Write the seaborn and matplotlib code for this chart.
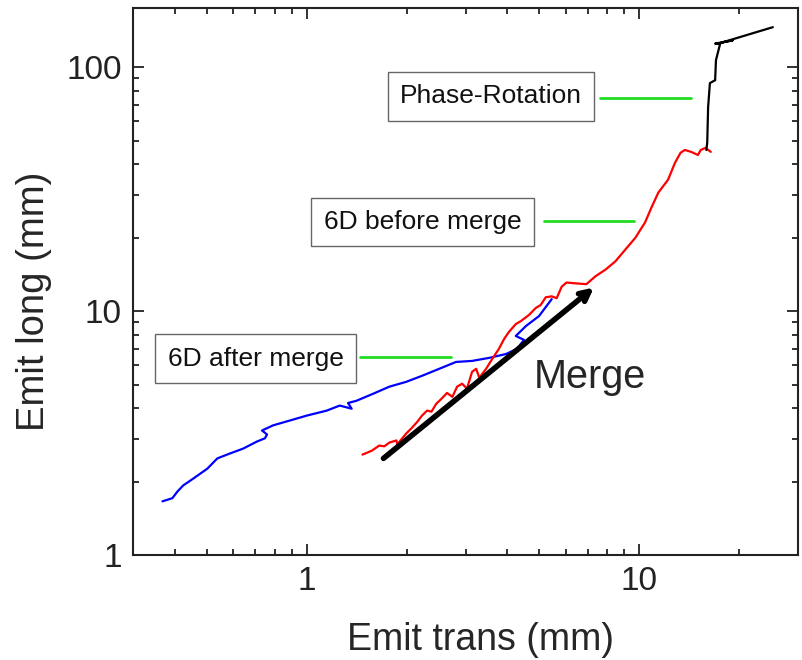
import numpy as np
import pandas as pd
import seaborn as sns
import matplotlib.pyplot as plt
from matplotlib.ticker import LogLocator, NullFormatter, FixedLocator, FixedFormatter

# 6D after merge (blue)
after_x = [0.368, 0.394, 0.408, 0.425, 0.456, 0.502, 0.538, 0.588, 0.643, 0.708, 0.748,
           0.759, 0.733, 0.791, 0.889, 1.0, 1.148, 1.256, 1.364, 1.33, 1.41, 1.58, 1.77,
           1.99, 2.22, 2.50, 2.81, 3.14, 3.53, 3.97, 4.28, 4.50, 4.25, 4.56, 4.99, 5.45]
after_y = [1.66, 1.71, 1.82, 1.93, 2.06, 2.26, 2.49, 2.61, 2.73, 2.92, 3.01,
           3.12, 3.24, 3.40, 3.56, 3.73, 3.91, 4.10, 3.98, 4.20, 4.29, 4.58, 4.90,
           5.13, 5.43, 5.80, 6.19, 6.25, 6.43, 6.67, 7.00, 7.62, 7.91, 8.69, 9.54, 11.2]

# 6D before merge (red)
before_x = [1.47, 1.57, 1.65, 1.71, 1.77, 1.86, 1.87, 1.99, 2.06, 2.15, 2.22, 2.30, 2.37,
            2.45, 2.54, 2.64, 2.74, 2.83, 2.93, 3.03, 3.14, 3.23, 3.30, 3.46, 3.61, 3.78,
            3.92, 4.05, 4.25, 4.40, 4.65, 4.88, 5.05, 5.23, 5.45, 5.64, 5.84, 6.04, 6.43,
            6.93, 7.38, 7.91, 8.47, 9.08, 9.73, 10.4, 10.9, 11.4, 12.2, 12.8, 13.3, 13.7,
            14.3, 15.0, 15.3, 15.8, 16.4]
before_y = [2.58, 2.68, 2.81, 2.79, 2.89, 2.95, 2.84, 3.15, 3.30, 3.52, 3.73, 3.91, 3.87,
            4.17, 4.37, 4.62, 4.45, 4.90, 5.04, 4.81, 5.64, 5.80, 5.33, 5.80, 6.37, 7.00,
            7.69, 8.21, 8.85, 9.10, 9.63, 10.3, 10.6, 11.4, 11.5, 11.3, 12.6, 13.1, 13.0,
            12.9, 13.9, 14.8, 16.0, 17.9, 20.0, 23.1, 26.8, 30.6, 34.6, 40.6, 44.6, 45.8,
            45.0, 43.7, 45.8, 46.7, 45.0]

# Phase rotation (black)
rot_x = [15.9, 16.0, 16.1, 16.3, 16.7, 16.9, 17.0, 17.5, 16.9, 19.1, 17.6, 25.2]
rot_y = [45.8, 49.0, 68.7, 86.1, 87.7, 88.5, 107, 125, 125, 129, 126, 146]

labels = ["Phase-Rotation", "6D before merge", "6D after merge"]

sns.set_style("ticks")
plt.rcParams['font.family'] = ['Liberation Sans', 'DejaVu Sans']

fig = plt.figure(figsize=(8.02, 6.60), dpi=100)
ax = fig.add_axes([133 / 802, 1 - 555 / 660, 665 / 802, 547 / 660])

for xs, ys, c in [(after_x, after_y, '#0000ff'), (before_x, before_y, '#ff0000'),
                  (rot_x, rot_y, 'black')]:
    df = pd.DataFrame({'x': xs, 'y': ys})
    sns.lineplot(data=df, x='x', y='y', sort=False, estimator=None, color=c, lw=1.6, ax=ax)

ax.set_xscale('log')
ax.set_yscale('log')
ax.set_xlim(0.3, 30)
ax.set_ylim(1, 175)

ax.xaxis.set_major_locator(FixedLocator([1, 10]))
ax.xaxis.set_major_formatter(FixedFormatter(['1', '10']))
ax.yaxis.set_major_locator(FixedLocator([1, 10, 100]))
ax.yaxis.set_major_formatter(FixedFormatter(['1', '10', '100']))
ax.xaxis.set_minor_locator(LogLocator(subs=np.arange(2, 10)))
ax.yaxis.set_minor_locator(LogLocator(subs=np.arange(2, 10)))
ax.xaxis.set_minor_formatter(NullFormatter())
ax.yaxis.set_minor_formatter(NullFormatter())
ax.tick_params(which='both', direction='in', top=True, right=True, labelsize=24,
               width=1.3, colors='#222222')
ax.tick_params(which='major', length=8, pad=8)
ax.tick_params(which='minor', length=4.5)
for s in ax.spines.values():
    s.set_linewidth(1.5)
    s.set_color('#222222')

ax.set_xlabel("Emit trans (mm)", fontsize=27)
ax.set_ylabel("Emit long (mm)", fontsize=27.5)
ax.xaxis.set_label_coords(0.522, -0.122)
ax.yaxis.set_label_coords(-0.122, 0.464)

# labels with leader lines
box = dict(boxstyle='square,pad=0.47', fc='white', ec='#666666', lw=1)
ax.text(3.58, 75.9, labels[0], fontsize=19, ha='center', va='center', bbox=box, color='#111111')
ax.text(2.23, 23.2, labels[1], fontsize=19, ha='center', va='center', bbox=box, color='#111111')
ax.text(0.701, 6.37, labels[2], fontsize=19, ha='center', va='center', bbox=box, color='#111111')
ax.plot([7.64, 14.3], [74.6, 74.6], color='#22dd22', lw=2)
ax.plot([5.16, 9.66], [23.5, 23.5], color='#22dd22', lw=2)
ax.plot([1.44, 2.72], [6.49, 6.49], color='#22dd22', lw=2)

ax.annotate('', xy=(7.3, 12.5), xytext=(1.70, 2.49),
            arrowprops=dict(arrowstyle='->,head_length=0.7,head_width=0.35', lw=4,
                            color='black', shrinkA=0, shrinkB=0))
ax.text(4.82, 4.85, "Merge", fontsize=28.5, ha='left', va='baseline')

fig.savefig('out.png', dpi=100)
